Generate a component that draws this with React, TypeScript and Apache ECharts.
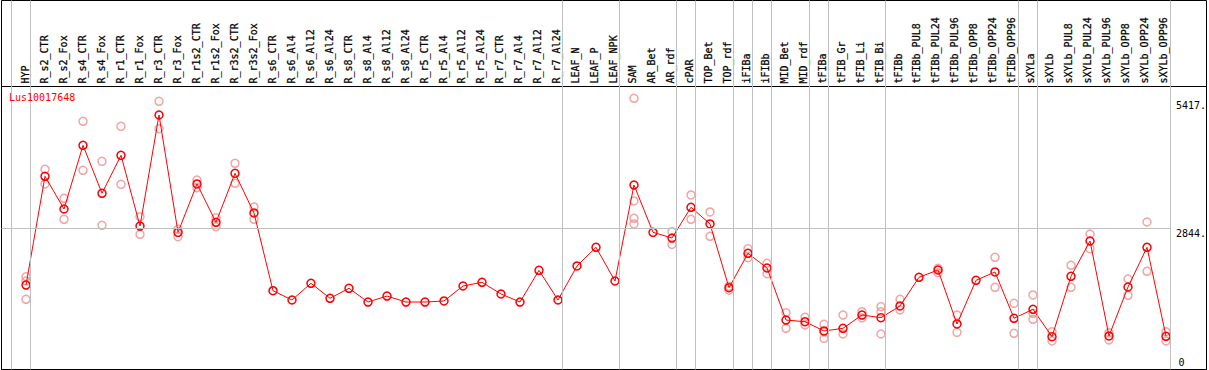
import React, { useEffect, useRef } from 'react';
import * as echarts from 'echarts';

const geneName = 'Lus10017648';

const categories = [
  'HYP', 'R_s2_CTR', 'R_s2_Fox', 'R_s4_CTR', 'R_s4_Fox', 'R_r1_CTR', 'R_r1_Fox', 'R_r3_CTR', 'R_r3_Fox',
  'R_r1s2_CTR', 'R_r1s2_Fox', 'R_r3s2_CTR', 'R_r3s2_Fox', 'R_s6_CTR', 'R_s6_Al4', 'R_s6_Al12', 'R_s6_Al24',
  'R_s8_CTR', 'R_s8_Al4', 'R_s8_Al12', 'R_s8_Al24', 'R_r5_CTR', 'R_r5_Al4', 'R_r5_Al12', 'R_r5_Al24',
  'R_r7_CTR', 'R_r7_Al4', 'R_r7_Al12', 'R_r7_Al24', 'LEAF_N', 'LEAF_P', 'LEAF_NPK', 'SAM', 'AR_Bet', 'AR_rdf',
  'cPAR', 'TOP_Bet', 'TOP_rdf', 'iFIBa', 'iFIBb', 'MID_Bet', 'MID_rdf', 'tFIBa', 'tFIB_Gr', 'tFIB_Li', 'tFIB_Bi',
  'tFIBb', 'tFIBb_PUL8', 'tFIBb_PUL24', 'tFIBb_PUL96', 'tFIBb_OPP8', 'tFIBb_OPP24', 'tFIBb_OPP96', 'sXYLa',
  'sXYLb', 'sXYLb_PUL8', 'sXYLb_PUL24', 'sXYLb_PUL96', 'sXYLb_OPP8', 'sXYLb_OPP24', 'sXYLb_OPP96',
];

const means = [
  1704, 3897, 3237, 4522, 3554, 4320, 2894, 5133, 2767,
  3742, 2969, 3957, 3157, 1589, 1402, 1739, 1436,
  1638, 1361, 1482, 1361, 1361, 1382, 1684, 1759,
  1523, 1361, 2001, 1402, 2088, 2465, 1785, 3721, 2767, 2652,
  3272, 2935, 1650, 2344, 2047, 998, 964, 777, 831, 1099, 1045,
  1281, 1860, 2007, 918, 1799, 1967, 1033, 1214,
  662, 1880, 2592, 676, 1664, 2465, 670,
];

const replicates: number[][] = [
  [1872, 1785, 1416], [4038, 3742], [3453, 3030], [5006, 4018], [4199, 2909], [4905, 3735], [3082, 2727], [5410, 4857], [2828, 2679],
  [3822, 3667], [3062, 2880], [4159, 3756], [3278, 3030], [], [], [], [],
  [], [], [], [], [], [], [], [],
  [], [], [], [], [], [], [], [5470, 3399, 3050, 2935], [], [2779, 2525],
  [3520, 3030], [3177, 2687], [1680, 1600], [2437, 2255], [2142, 1932], [1146, 831], [1053, 898], [912, 756, 629], [1099, 716], [1166, 1039], [1267, 1166, 716],
  [1416, 1200], [], [2041, 1952], [1099, 750], [], [2263, 1658], [1335, 730], [1503, 1134, 1013],
  [762, 575], [2102, 1658], [2733, 2437], [742, 595], [1825, 1497], [2975, 1981], [762, 575],
];

// separators are drawn after these category indices (-1 = before the first)
const groupBoundaries = [-1, 0, 28, 31, 34, 35, 37, 38, 39, 41, 42, 45, 52, 53, 60];
const referenceLineValue = 2844;
const rightTickLabels = [2844, 5417];
const bottomTickLabels = [0];
const yMax = 5708;

const FONT = 'DejaVu Sans Mono';
const colStep = 19;
const xMin = -24.5 / colStep;
const xMax = xMin + 1205 / colStep;
const sepOffset = 4.5 / colStep;

export default function App() {
  const ref = useRef<HTMLDivElement>(null);
  useEffect(() => {
    if (!ref.current) return;
    const chart = echarts.init(ref.current, undefined, { renderer: 'svg' });
    const repData: number[][] = [];
    replicates.forEach((arr, i) => arr.forEach((v) => repData.push([i, v])));
    const meanData = means.map((v, i) => [i, v]);
    const gridStyle = { show: true, borderColor: '#000', borderWidth: 1, backgroundColor: 'transparent' };
    const textBorder = { textBorderColor: '#000', textBorderWidth: 0.25 };
    chart.setOption({
      animation: false,
      title: {
        text: geneName,
        left: 9,
        top: 92,
        padding: 0,
        textStyle: { fontFamily: FONT, fontSize: 10, fontWeight: 'normal', color: '#ff0000' },
      },
      grid: [
        { left: 1.5, top: 0.5, width: 1205, height: 369, ...gridStyle },
        { left: 1.5, top: 86.5, width: 1205, height: 283, ...gridStyle },
        { left: 16.5, top: 86.5, width: categories.length * colStep, height: 283, show: false },
      ],
      xAxis: [
        { gridIndex: 0, type: 'value', min: xMin, max: xMax, show: false },
        { gridIndex: 1, type: 'value', min: xMin, max: xMax, show: false },
        {
          gridIndex: 2,
          type: 'category',
          data: categories,
          position: 'top',
          boundaryGap: true,
          axisLine: { show: false },
          axisTick: { show: false },
          splitLine: { show: false },
          axisLabel: { interval: 0, rotate: 90, margin: 3, fontFamily: FONT, fontSize: 10, color: '#000', ...textBorder },
        },
      ],
      yAxis: [
        { gridIndex: 0, type: 'value', min: 0, max: 1, show: false },
        {
          gridIndex: 1,
          type: 'value',
          min: 0,
          max: yMax,
          position: 'right',
          axisLine: { show: false },
          axisTick: { show: false },
          splitLine: { show: false },
          axisLabel: {
            inside: true,
            customValues: bottomTickLabels,
            align: 'left',
            margin: 28,
            verticalAlign: 'bottom',
            padding: [0, 0, 2, 0],
            fontFamily: FONT,
            fontSize: 10,
            color: '#000',
            formatter: (v: number) => `${v}`,
          },
        },
        {
          gridIndex: 2,
          type: 'value',
          min: 0,
          max: yMax,
          position: 'right',
          axisLine: { show: false },
          axisTick: { show: false },
          splitLine: { show: false },
          axisLabel: {
            customValues: rightTickLabels,
            align: 'left',
            margin: 3,
            verticalAlign: 'top',
            fontFamily: FONT,
            fontSize: 10,
            color: '#000',
            formatter: (v: number) => `${v}.`,
          },
        },
      ],
      series: [
        {
          type: 'line',
          xAxisIndex: 0,
          yAxisIndex: 0,
          data: [[xMin, 0]],
          symbol: 'none',
          lineStyle: { opacity: 0 },
          silent: true,
          markLine: {
            silent: true,
            symbol: 'none',
            label: { show: false },
            lineStyle: { color: '#c0c0c0', width: 1, type: 'solid' },
            data: groupBoundaries.map((i) => ({ xAxis: i + sepOffset })),
          },
        },
        {
          type: 'scatter',
          xAxisIndex: 1,
          yAxisIndex: 1,
          data: repData,
          symbol: 'circle',
          symbolSize: 8,
          itemStyle: { color: 'rgba(0,0,0,0)', borderColor: '#ee9090', borderWidth: 1.5 },
          markLine: {
            silent: true,
            symbol: 'none',
            label: { show: false },
            lineStyle: { color: '#c0c0c0', width: 1, type: 'solid' },
            data: [[
              { coord: [xMin, referenceLineValue] },
              { coord: [categories.length - 1 + sepOffset, referenceLineValue] },
            ]],
          },
        },
        {
          type: 'line',
          xAxisIndex: 1,
          yAxisIndex: 1,
          data: meanData,
          symbol: 'circle',
          symbolSize: 8,
          showAllSymbol: true,
          lineStyle: { color: '#ff0000', width: 1 },
          itemStyle: { color: 'rgba(0,0,0,0)', borderColor: '#ff0000', borderWidth: 1.5 },
        },
      ],
    });
    return () => chart.dispose();
  }, []);
  return <div ref={ref} style={{ position: 'absolute', left: 0, top: 0, width: 1209, height: 370 }} />;
}
